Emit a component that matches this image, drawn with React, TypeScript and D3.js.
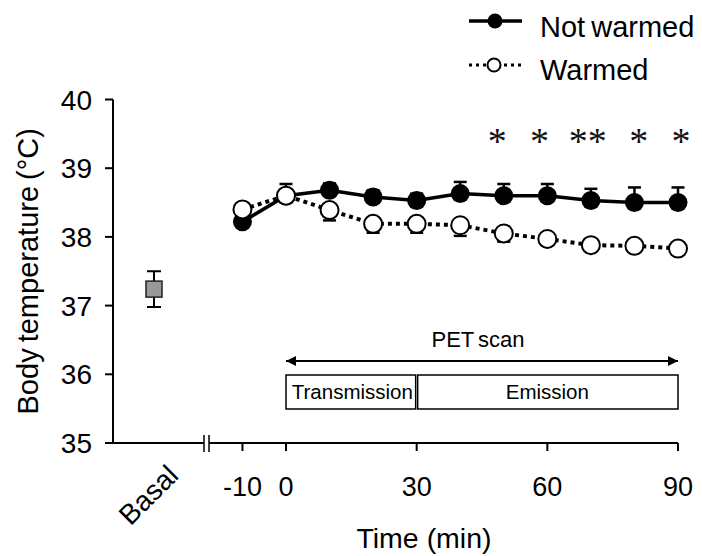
import React from 'react';
import * as d3 from 'd3';

// time points (min)
const times = [-10, 0, 10, 20, 30, 40, 50, 60, 70, 80, 90];
// body temperature, mean values
const notWarmed = [38.22, 38.6, 38.68, 38.58, 38.53, 38.63, 38.6, 38.6, 38.53, 38.5, 38.5];
const notWarmedErr = [0.08, 0.17, 0.1, 0.1, 0.1, 0.17, 0.17, 0.17, 0.17, 0.22, 0.22];
const warmed = [38.4, 38.6, 38.39, 38.19, 38.19, 38.17, 38.05, 37.97, 37.88, 37.87, 37.83];
const warmedErr = [0.08, 0.1, 0.15, 0.13, 0.13, 0.155, 0.12, 0.05, 0.05, 0.05, 0.09];
const basalValue = 37.24;
const basalErr = 0.26;

const yTicks = [35, 36, 37, 38, 39, 40];
const xTicks = [-10, 0, 30, 60, 90];
// significance marks
const starTimes = [48.5, 58.2, 69.3, 81, 90.7];
const starLabels = ['*', '*', '**', '*', '*'];
const starLevel = 39.48;

// PET scan phases
const scanStart = 0;
const scanSplit = 30;
const scanEnd = 90;

const font = 'Arial, "Liberation Sans", sans-serif';

export default function App() {
  const y = d3.scaleLinear().domain([35, 40]).range([443, 99.5]);
  const x = d3.scaleLinear().domain([0, 90]).range([286, 678]);
  const basalX = 154;
  const axisX = 113;
  const axisY = y(35);

  const line = d3.line<number>()
    .x((d, i) => x(times[i]))
    .y(d => y(d));

  const capW = 13;

  return (
    <svg width={702} height={556} style={{position: 'absolute', left: 0, top: 0}} fontFamily={font}>
      <rect width={702} height={556} fill="white" />

      {/* y axis */}
      <line x1={axisX} x2={axisX} y1={y(40)} y2={axisY} stroke="black" strokeWidth={2} />
      {yTicks.map(t => (
        <g key={t}>
          <line x1={axisX - 8} x2={axisX} y1={y(t)} y2={y(t)} stroke="black" strokeWidth={2} />
          <text x={92} y={y(t)} dy="0.36em" textAnchor="end" fontSize={28}>{t}</text>
        </g>
      ))}
      <text transform={`translate(38,${(y(35) + y(40)) / 2}) rotate(-90)`} textAnchor="middle" fontSize={29} wordSpacing={-2}>
        Body temperature (°C)
      </text>

      {/* x axis with break */}
      <line x1={axisX - 8} x2={204} y1={axisY} y2={axisY} stroke="black" strokeWidth={2} />
      <line x1={209} x2={x(90)} y1={axisY} y2={axisY} stroke="black" strokeWidth={2} />
      <line x1={204} x2={204} y1={axisY - 8} y2={axisY + 9} stroke="black" strokeWidth={1.5} />
      <line x1={209} x2={209} y1={axisY - 8} y2={axisY + 9} stroke="black" strokeWidth={1.5} />
      {xTicks.map(t => (
        <g key={t}>
          <line x1={x(t)} x2={x(t)} y1={axisY} y2={axisY + 8} stroke="black" strokeWidth={2} />
          <text x={x(t)} y={496} textAnchor="middle" fontSize={27}>{t}</text>
        </g>
      ))}
      <text transform={`translate(180,477) rotate(-45)`} textAnchor="end" fontSize={28}>Basal</text>
      <text x={424} y={548} textAnchor="middle" fontSize={28.5}>Time (min)</text>

      {/* basal */}
      <line x1={basalX} x2={basalX} y1={y(basalValue + basalErr)} y2={y(basalValue - basalErr)} stroke="black" strokeWidth={2} />
      <line x1={basalX - 7} x2={basalX + 7} y1={y(basalValue + basalErr)} y2={y(basalValue + basalErr)} stroke="black" strokeWidth={2} />
      <line x1={basalX - 7} x2={basalX + 7} y1={y(basalValue - basalErr)} y2={y(basalValue - basalErr)} stroke="black" strokeWidth={2} />
      <rect x={basalX - 8} y={y(basalValue) - 8} width={16} height={16} fill="#999" stroke="#222" strokeWidth={1.5} />

      {/* not warmed */}
      <path d={line(notWarmed) || ''} fill="none" stroke="black" strokeWidth={3.5} />
      {notWarmed.map((v, i) => (
        <g key={'ne' + i}>
          <line x1={x(times[i])} x2={x(times[i])} y1={y(v)} y2={y(v + notWarmedErr[i])} stroke="black" strokeWidth={2.5} />
          <line x1={x(times[i]) - capW / 2} x2={x(times[i]) + capW / 2} y1={y(v + notWarmedErr[i])} y2={y(v + notWarmedErr[i])} stroke="black" strokeWidth={2.5} />
        </g>
      ))}
      {notWarmed.map((v, i) => (
        <circle key={'n' + i} cx={x(times[i])} cy={y(v)} r={9.5} fill="black" />
      ))}

      {/* warmed */}
      <path d={line(warmed) || ''} fill="none" stroke="black" strokeWidth={4} strokeDasharray="4 4" />
      {warmed.map((v, i) => (
        <g key={'we' + i}>
          <line x1={x(times[i])} x2={x(times[i])} y1={y(v)} y2={y(v - warmedErr[i])} stroke="black" strokeWidth={2.5} />
          <line x1={x(times[i]) - capW / 2} x2={x(times[i]) + capW / 2} y1={y(v - warmedErr[i])} y2={y(v - warmedErr[i])} stroke="black" strokeWidth={2.5} />
        </g>
      ))}
      {warmed.map((v, i) => (
        <circle key={'w' + i} cx={x(times[i])} cy={y(v)} r={9} fill="white" stroke="black" strokeWidth={2} />
      ))}

      {/* stars */}
      {starTimes.map((t, i) => (
        <text key={'s' + i} x={x(t)} y={y(starLevel)} dy="0.5em" textAnchor="middle" fontSize={38} fill="#111"
          fontFamily='"Liberation Serif", "Times New Roman", serif'>{starLabels[i]}</text>
      ))}

      {/* PET scan */}
      <defs>
        <marker id="arr" viewBox="0 0 10 10" refX={10} refY={5} markerWidth={5} markerHeight={5} orient="auto-start-reverse">
          <path d="M0,0 L10,5 L0,10 z" fill="black" />
        </marker>
      </defs>
      <text x={(x(scanStart) + x(scanEnd)) / 2 - 4} y={347} textAnchor="middle" fontSize={22} wordSpacing={-2}>PET scan</text>
      <line x1={x(scanStart)} x2={x(scanEnd)} y1={361} y2={361} stroke="black" strokeWidth={2}
        markerStart="url(#arr)" markerEnd="url(#arr)" />
      <rect x={x(scanStart)} y={375} width={x(scanSplit) - x(scanStart) - 1} height={34} fill="white" stroke="black" strokeWidth={1.5} />
      <rect x={x(scanSplit) + 1} y={375} width={x(scanEnd) - x(scanSplit) - 1} height={34} fill="white" stroke="black" strokeWidth={1.5} />
      <text x={(x(scanStart) + x(scanSplit)) / 2 + 1} y={399} textAnchor="middle" fontSize={20.5}>Transmission</text>
      <text x={(x(scanSplit) + x(scanEnd)) / 2} y={399} textAnchor="middle" fontSize={20.5}>Emission</text>

      {/* legend */}
      <line x1={469} x2={522} y1={21} y2={21} stroke="black" strokeWidth={3.5} />
      <circle cx={495} cy={21} r={7.5} fill="black" />
      <text x={540} y={37} fontSize={29} wordSpacing={-2}>Not warmed</text>
      <line x1={469} x2={522} y1={65} y2={65} stroke="black" strokeWidth={3} strokeDasharray="3 4" />
      <circle cx={494} cy={65} r={6.5} fill="white" stroke="black" strokeWidth={2} />
      <text x={540} y={80} fontSize={29}>Warmed</text>
    </svg>
  );
}
